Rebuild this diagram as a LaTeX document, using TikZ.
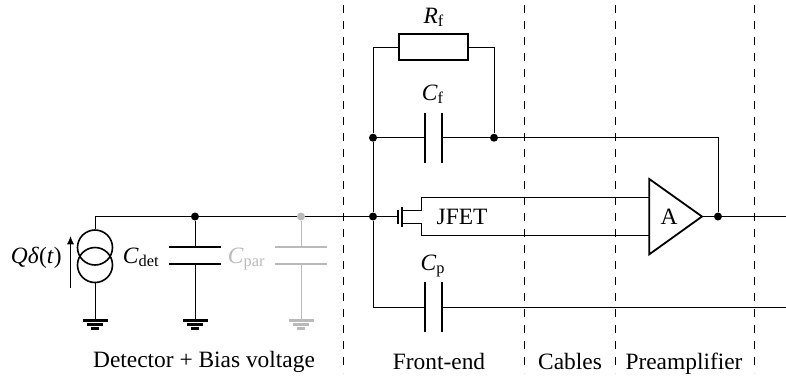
\documentclass[tikz,border=0pt]{standalone}
\usepackage{fontspec}
\setmainfont{Liberation Serif}
\usetikzlibrary{positioning,arrows.meta}
\newcommand{\qty}[2]{\textit{#1}\textsubscript{#2}}
\tikzset{
  wire/.style={line width=.5pt},
  plate/.style={line width=1.05pt},
  dot/.style={circle,fill=black,inner sep=0pt,minimum size=4pt},
  divider/.style={line width=.45pt,dash pattern=on 3.9pt off 4.1pt},
  txt/.style={inner sep=0pt,anchor=base,font=\fontsize{11.7}{13}\selectfont},
  parasite/.style={black!27},
  ground/.pic={
    \draw[plate] (-12.5,0) -- (12.5,0);
    \draw[plate] (-8,4) -- (8,4);
    \draw[plate] (-4,8) -- (4,8);
  }
}
\begin{document}
\begin{tikzpicture}[x=.5pt,y=-.5pt]
  \useasboundingbox (0,0) rectangle (786,377);

  %stage dividers
  \coordinate (t1) at (343,5);   \coordinate (b1) at (343,373);
  \coordinate (t2) at (524,5);   \coordinate (b2) at (524,373);
  \coordinate (t3) at (615,5);   \coordinate (b3) at (615,373);
  \coordinate (t4) at (754,5);   \coordinate (b4) at (754,373);
  \foreach \i in {1,...,4}
    \draw[divider] (t\i) -- (b\i);

  %junctions
  \node [dot] (d1) at (195,216.5) {};
  \node [dot,fill=black!27] (d2) at (301,216.5) {};
  \node [dot] (d3) at (373,216.5) {};
  \node [dot] (d4) at (373,137.7) {};
  \node [dot] (d5) at (494,137.7) {};
  \node [dot] (d6) at (718,216.5) {};

  %current source
  \node [circle,draw,line width=.8pt,minimum size=17.5pt,inner sep=0pt] (s1) at (95,247.5) {};
  \node [circle,draw,line width=.8pt,minimum size=17.5pt,inner sep=0pt] (s2) at (95,265) {};
  \coordinate (s0) at (95,216.5);
  \coordinate (g1) at (95,320.5);
  \draw[wire] (s0) -- (s1.north);
  \draw[wire] (s2.south) -- (g1);
  \pic at (g1) {ground};
  \coordinate (a1) at (70.5,288);
  \coordinate (a2) at (70.5,236);
  \draw[wire,-{Latex[length=4.2pt,width=3.6pt]}] (a1) -- (a2);
  \node [txt,anchor=base east] (qd) at (62,263) {\textit{Qδ}(\textit{t})};

  %detector capacitance
  \coordinate (c1) at (195,247.3);
  \coordinate (c2) at (195,264.3);
  \coordinate (g2) at (195,320.5);
  \draw[wire] (d1) -- (c1);
  \draw[wire] (c2) -- (g2);
  \draw[plate] ([xshift=-13pt]c1) -- ([xshift=13pt]c1);
  \draw[plate] ([xshift=-13pt]c2) -- ([xshift=13pt]c2);
  \pic at (g2) {ground};
  \node [txt,anchor=base east] (cd) at (160,263) {\qty{C}{det}};

  %parasitic capacitance
  \begin{scope}[parasite]
    \coordinate (c3) at (301,247.3);
    \coordinate (c4) at (301,264.3);
    \coordinate (g3) at (301,320.5);
    \draw[wire] (d2) -- (c3);
    \draw[wire] (c4) -- (g3);
    \draw[plate] ([xshift=-13pt]c3) -- ([xshift=13pt]c3);
    \draw[plate] ([xshift=-13pt]c4) -- ([xshift=13pt]c4);
    \pic at (g3) {ground};
    \node [txt,anchor=base east] (cq) at (266,263) {\qty{C}{par}};
  \end{scope}

  %feedback resistor
  \node [draw,plate,minimum width=34.5pt,minimum height=13pt,inner sep=0pt] (rf) at (433.5,47) {};
  \node [txt] (lr) at (434,23) {\qty{R}{f}};
  \coordinate (r1) at (373,47);
  \coordinate (r2) at (494,47);
  \draw[wire] (d4) -- (r1) -- (rf.west);
  \draw[wire] (rf.east) -- (r2) -- (d5);

  %feedback capacitor
  \coordinate (f1) at (425,137.7);
  \coordinate (f2) at (442,137.7);
  \draw[wire] (d4) -- (f1);
  \draw[wire] (f2) -- (d5);
  \draw[plate] ([yshift=12.5pt]f1) -- ([yshift=-12.5pt]f1);
  \draw[plate] ([yshift=12.5pt]f2) -- ([yshift=-12.5pt]f2);
  \node [txt] (lf) at (433,100) {\qty{C}{f}};

  %input capacitor of the stage
  \coordinate (k0) at (373,307.3);
  \coordinate (k1) at (425,307.3);
  \coordinate (k2) at (442,307.3);
  \coordinate (k3) at (786,307.3);
  \draw[wire] (d4) -- (d3) -- (k0) -- (k1);
  \draw[wire] (k2) -- (k3);
  \draw[plate] ([yshift=12.5pt]k1) -- ([yshift=-12.5pt]k1);
  \draw[plate] ([yshift=12.5pt]k2) -- ([yshift=-12.5pt]k2);
  \node [txt] (lp) at (433,270) {\qty{C}{p}};

  %jfet
  \coordinate (j1) at (398.3,216.5);
  \coordinate (j2) at (402.3,210);
  \coordinate (j3) at (402.3,223);
  \coordinate (j4) at (421.7,197.3);
  \coordinate (j5) at (421.7,235.7);
  \draw[wire] (s0) -- (d1) -- (d2) -- (d3) -- (j1);
  \draw[plate] ([yshift=3.5pt]j1) -- ([yshift=-3.5pt]j1);
  \draw[plate] ([yshift=5pt]j1-|j2) -- ([yshift=-5pt]j1-|j2);
  \node [txt] (lj) at (462,224) {JFET};

  %amplifier
  \coordinate (p1) at (649.3,179);
  \coordinate (p2) at (649.3,254.3);
  \coordinate (p3) at (702,216.5);
  \draw[line width=.9pt,line join=miter] (p1) -- (p3) -- (p2) -- cycle;
  \node [txt] (la) at (669,224) {A};
  \draw[wire] (j2) -- (j2-|j4) -- (j4) -- (j4-|p1);
  \draw[wire] (j3) -- (j3-|j5) -- (j5) -- (j5-|p2);

  %output
  \coordinate (o1) at (718,137.7);
  \coordinate (o2) at (786,216.5);
  \draw[wire] (d5) -- (o1) -- (d6);
  \draw[wire] (p3) -- (d6) -- (o2);

  %stage names
  \node [txt] (n1) at (204,367) {Detector + Bias voltage};
  \node [txt] (n2) at (439,369) {Front-end};
  \node [txt] (n3) at (570,369) {Cables};
  \node [txt] (n4) at (684,369) {Preamplifier};
\end{tikzpicture}
\end{document}
